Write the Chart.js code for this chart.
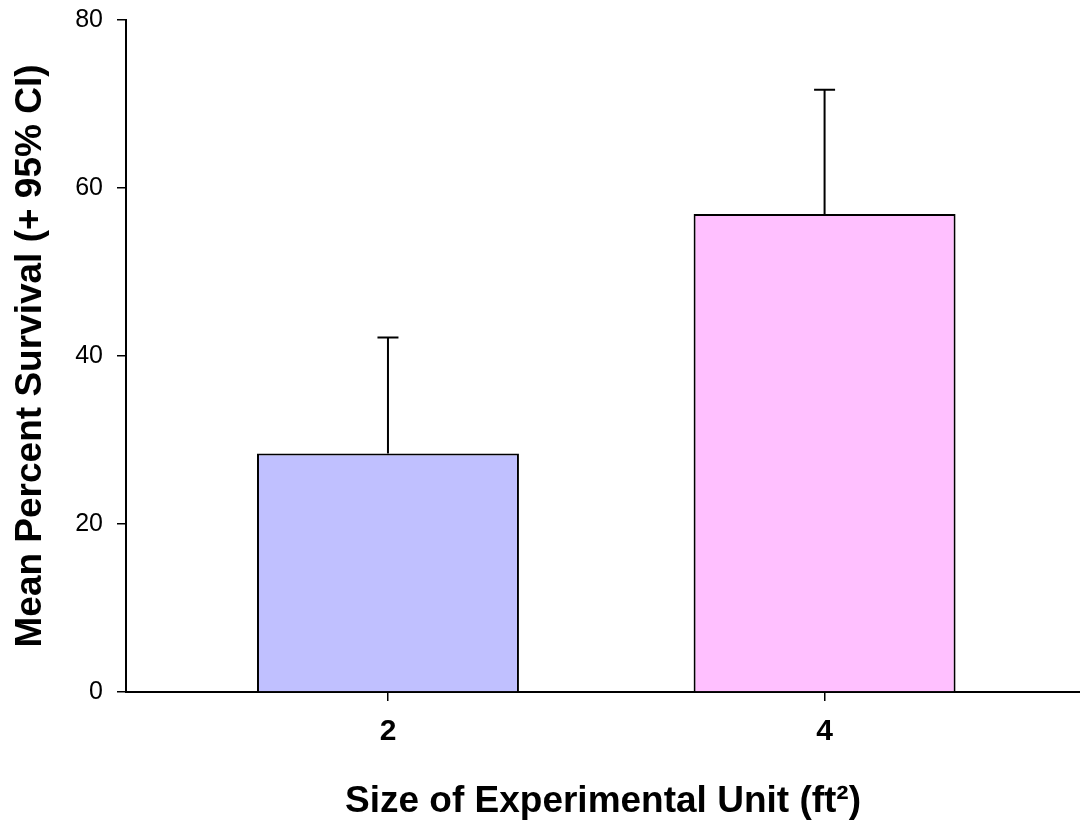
<!DOCTYPE html>
<html>
<head>
<meta charset="utf-8">
<script src="https://cdn.jsdelivr.net/npm/chart.js@4"></script>
<style>
  body { margin: 0; background: #fff; }
  #wrap { width: 1080px; height: 829px; position: relative; }
</style>
</head>
<body>
<div id="wrap"><canvas id="survivalChart"></canvas></div>
<script>
// data
const unitSizes = [2, 4];
const meanSurvival = [28.4, 56.9];
const upperCI = [42.2, 71.7];
const barColors = ["#c0c0ff", "#ffc0ff"];
const xTicks = [2, 4];
const yTicks = [0, 20, 40, 60, 80];

const FONT = "'Liberation Sans', Arial, sans-serif";

// upper whisker of the 95% CI
const ciBars = {
  id: "ciBars",
  afterDatasetsDraw(chart) {
    const { ctx, scales } = chart;
    ctx.save();
    ctx.strokeStyle = "#000";
    ctx.lineWidth = 2;
    unitSizes.forEach((s, i) => {
      const x = scales.x.getPixelForValue(s);
      const y0 = scales.y.getPixelForValue(meanSurvival[i]);
      const y1 = scales.y.getPixelForValue(upperCI[i]);
      ctx.beginPath();
      ctx.moveTo(x, y0);
      ctx.lineTo(x, y1);
      ctx.moveTo(x - 10.5, y1);
      ctx.lineTo(x + 10.5, y1);
      ctx.stroke();
    });
    ctx.restore();
  }
};

new Chart(document.getElementById("survivalChart"), {
  type: "bar",
  data: {
    datasets: [
      {
        data: unitSizes.map((s, i) => ({ x: s, y: meanSurvival[i] })),
        backgroundColor: barColors,
        borderColor: "#000",
        borderWidth: 2,
        borderSkipped: "bottom",
        categoryPercentage: 1,
        barPercentage: 0.6,
      },
    ],
  },
  options: {
    responsive: true,
    maintainAspectRatio: false,
    animation: false,
    layout: { padding: { top: 20, right: 0, bottom: 0, left: 0 } },
    plugins: {
      legend: { display: false },
      tooltip: { enabled: false },
    },
    scales: {
      x: {
        type: "linear",
        min: 0.8,
        max: 5.17,
        offset: false,
        afterBuildTicks: (scale) => {
          scale.ticks = xTicks.map((v) => ({ value: v }));
        },
        afterFit: (scale) => { scale.height = 137; },
        border: { display: true, color: "#000", width: 2 },
        grid: { offset: false, drawOnChartArea: false, drawTicks: true, tickLength: 9, color: "#000", lineWidth: 1.5 },
        ticks: {
          color: "#000",
          padding: 13,
          font: { family: FONT, size: 30, weight: "bold" },
          callback: (v) => String(v),
        },
        title: {
          display: true,
          text: "Size of Experimental Unit (ft²)",
          color: "#000",
          font: { family: FONT, size: 37, weight: "bold" },
          padding: { top: 0, bottom: 5 },
        },
      },
      y: {
        min: 0,
        max: 80,
        afterBuildTicks: (scale) => {
          scale.ticks = yTicks.map((v) => ({ value: v }));
        },
        afterFit: (scale) => {
          scale.width = 126;
          scale.paddingTop = 0;
          scale.paddingBottom = 0;
        },
        border: { display: true, color: "#000", width: 2 },
        grid: { drawOnChartArea: false, drawTicks: true, tickLength: 9, color: "#000", lineWidth: 1.5 },
        ticks: {
          color: "#000",
          padding: 14,
          font: { family: FONT, size: 25 },
        },
        title: {
          display: true,
          text: "Mean Percent Survival (+ 95% CI)",
          color: "#000",
          font: { family: FONT, size: 37, weight: "bold" },
          padding: { top: 9, bottom: 0 },
        },
      },
    },
  },
  plugins: [ciBars],
});
</script>
</body>
</html>
